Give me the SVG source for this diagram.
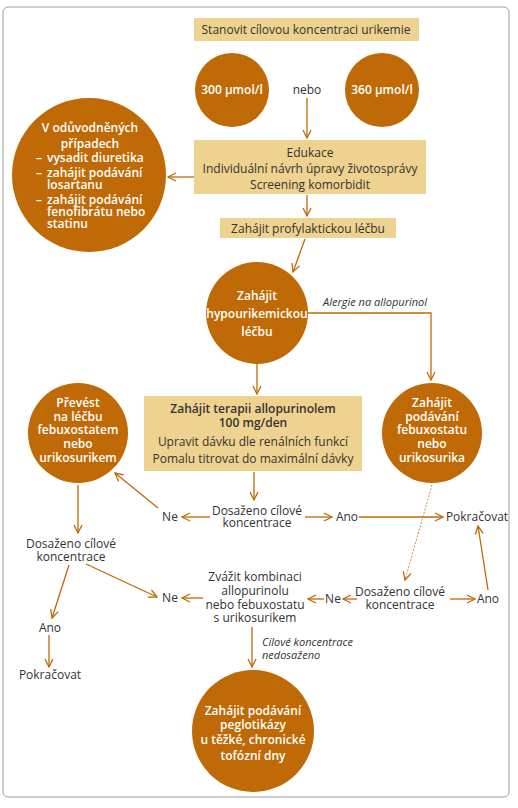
<svg xmlns="http://www.w3.org/2000/svg" width="518" height="808" viewBox="0 0 518 808">
<defs>
<style>
.t{font-family:"Open Sans","Noto Sans","Liberation Sans",sans-serif;font-size:12px;fill:#333;text-anchor:middle}
.w{font-family:"Open Sans","Noto Sans","Liberation Sans",sans-serif;font-size:12px;fill:#fff;text-anchor:middle;font-weight:600}
.wl{text-anchor:start}
.i{font-style:italic;font-size:11px}
.b{font-weight:600}
.c{fill:#BF6A06}
.bx{fill:#EED28F}
.ln{stroke:#BF6A06;stroke-width:1.3;fill:none}
.ds{stroke:#D4913A;stroke-width:1;fill:none;stroke-dasharray:2,1.5}
</style>
<marker id="a" viewBox="0 0 10 10" refX="9" refY="5" markerWidth="10" markerHeight="10" markerUnits="userSpaceOnUse" orient="auto">
<path d="M1,1 L9,5 L1,9" fill="none" stroke="#BF6A06" stroke-width="1.3"/>
</marker>
</defs>
<rect x="3" y="7" width="506" height="790" rx="5" fill="#fff" stroke="#a0a0a0" stroke-width="1"/>

<g id="connectors">
<line class="ln" x1="307" y1="98" x2="307" y2="138" marker-end="url(#a)"/>
<line class="ln" x1="194" y1="177" x2="168" y2="177" marker-end="url(#a)"/>
<line class="ln" x1="307" y1="195" x2="307" y2="216" marker-end="url(#a)"/>
<line class="ln" x1="305" y1="239" x2="293" y2="272" marker-end="url(#a)"/>
<polyline class="ln" points="308,313 431,313 431,380" marker-end="url(#a)"/>
<line class="ln" x1="257" y1="364" x2="257" y2="394" marker-end="url(#a)"/>
<line class="ln" x1="254" y1="472" x2="254" y2="500" marker-end="url(#a)"/>
<line class="ln" x1="210" y1="517" x2="182" y2="517" marker-end="url(#a)"/>
<line class="ln" x1="158" y1="508" x2="115" y2="473" marker-end="url(#a)"/>
<line class="ln" x1="305" y1="517" x2="332" y2="517" marker-end="url(#a)"/>
<line class="ln" x1="359" y1="517" x2="443" y2="517" marker-end="url(#a)"/>
<line class="ln" x1="78" y1="485" x2="78" y2="533" marker-end="url(#a)"/>
<line class="ln" x1="69" y1="565" x2="52" y2="618" marker-end="url(#a)"/>
<line class="ln" x1="86" y1="564" x2="157" y2="597" marker-end="url(#a)"/>
<line class="ln" x1="49" y1="635" x2="49" y2="667" marker-end="url(#a)"/>
<line class="ln" x1="203" y1="598" x2="182" y2="598" marker-end="url(#a)"/>
<line class="ln" x1="357" y1="599" x2="343" y2="599" marker-end="url(#a)"/>
<line class="ln" x1="324" y1="599" x2="308" y2="599" marker-end="url(#a)"/>
<line class="ln" x1="450" y1="599" x2="475" y2="599" marker-end="url(#a)"/>
<line class="ln" x1="488" y1="590" x2="478" y2="526" marker-end="url(#a)"/>
<line class="ds" x1="432" y1="485" x2="405" y2="580" marker-end="url(#a)"/>
<line class="ln" x1="252" y1="627" x2="252" y2="667" marker-end="url(#a)"/>
<text class="t i" x="323" y="306" style="text-anchor:start">Alergie na allopurinol</text>
<text class="t i" x="262" y="646" style="text-anchor:start">Cílové koncentrace</text>
<text class="t i" x="262" y="659" style="text-anchor:start">nedosaženo</text>
</g>

<g id="stanovit">
<rect class="bx" x="194" y="18" width="225" height="23"/>
<text class="t" x="306" y="34">Stanovit cílovou koncentraci urikemie</text>
</g>
<g id="c300">
<circle class="c" cx="232" cy="90" r="37"/>
<text class="w" x="232" y="94">300 µmol/l</text>
</g>
<g id="nebo"><text class="t" x="307" y="94">nebo</text></g>
<g id="c360">
<circle class="c" cx="382" cy="90" r="37"/>
<text class="w" x="382" y="94">360 µmol/l</text>
</g>
<g id="edukace">
<rect class="bx" x="194" y="140" width="232" height="54"/>
<text class="t" x="310" y="157">Edukace</text>
<text class="t" x="310" y="173">Individuální návrh úpravy životosprávy</text>
<text class="t" x="310" y="189">Screening komorbidit</text>
</g>
<g id="odduvodnenych">
<circle class="c" cx="89" cy="175" r="77"/>
<text class="w" x="90" y="132">V odůvodněných</text>
<text class="w" x="90" y="148">případech</text>
<text class="w wl" x="36" y="162">–</text><text class="w wl" x="47" y="162">vysadit diuretika</text>
<text class="w wl" x="36" y="177">–</text><text class="w wl" x="47" y="177">zahájit podávání</text>
<text class="w wl" x="47" y="189">losartanu</text>
<text class="w wl" x="36" y="204">–</text><text class="w wl" x="47" y="204">zahájit podávání</text>
<text class="w wl" x="47" y="216">fenofibrátu nebo</text>
<text class="w wl" x="47" y="228">statinu</text>
</g>
<g id="profylaxe">
<rect class="bx" x="220" y="218" width="176" height="20"/>
<text class="t" x="308" y="233">Zahájit profylaktickou léčbu</text>
</g>
<g id="hypourikemicka">
<circle class="c" cx="257" cy="313" r="51"/>
<text class="w" x="257" y="300">Zahájit</text>
<text class="w" x="257" y="318">hypourikemickou</text>
<text class="w" x="257" y="336">léčbu</text>
</g>
<g id="allopurinol">
<rect class="bx" x="144" y="396" width="218" height="75"/>
<text class="t b" x="253" y="413">Zahájit terapii allopurinolem</text>
<text class="t b" x="253" y="427">100 mg/den</text>
<text class="t" x="253" y="446">Upravit dávku dle renálních funkcí</text>
<text class="t" x="253" y="463">Pomalu titrovat do maximální dávky</text>
</g>
<g id="febuxostatu">
<circle class="c" cx="432" cy="433" r="50"/>
<text class="w" x="432" y="407">Zahájit</text>
<text class="w" x="432" y="421">podávání</text>
<text class="w" x="432" y="434">febuxostatu</text>
<text class="w" x="432" y="448">nebo</text>
<text class="w" x="432" y="462">urikosurika</text>
</g>
<g id="prevest">
<circle class="c" cx="78" cy="433" r="50"/>
<text class="w" x="78" y="407">Převést</text>
<text class="w" x="78" y="421">na léčbu</text>
<text class="w" x="78" y="434">febuxostatem</text>
<text class="w" x="78" y="448">nebo</text>
<text class="w" x="78" y="462">urikosurikem</text>
</g>
<g id="dosazeno1">
<text class="t" x="257" y="515">Dosaženo cílové</text>
<text class="t" x="257" y="527">koncentrace</text>
</g>
<g id="ne1"><text class="t" x="170" y="521">Ne</text></g>
<g id="ano1"><text class="t" x="347" y="521">Ano</text></g>
<g id="pokracovat1"><text class="t" x="477" y="521">Pokračovat</text></g>
<g id="dosazeno2">
<text class="t" x="71" y="548">Dosaženo cílové</text>
<text class="t" x="71" y="561">koncentrace</text>
</g>
<g id="ano2"><text class="t" x="50" y="632">Ano</text></g>
<g id="pokracovat2"><text class="t" x="50" y="679">Pokračovat</text></g>
<g id="ne2"><text class="t" x="170" y="602">Ne</text></g>
<g id="zvazit">
<text class="t" x="255" y="581">Zvážit kombinaci</text>
<text class="t" x="255" y="595">allopurinolu</text>
<text class="t" x="255" y="609">nebo febuxostatu</text>
<text class="t" x="255" y="622">s urikosurikem</text>
</g>
<g id="ne3"><text class="t" x="333" y="603">Ne</text></g>
<g id="dosazeno3">
<text class="t" x="400" y="596">Dosaženo cílové</text>
<text class="t" x="400" y="609">koncentrace</text>
</g>
<g id="ano3"><text class="t" x="488" y="603">Ano</text></g>
<g id="peglotikaza">
<circle class="c" cx="253" cy="731" r="61"/>
<text class="w" x="253" y="715">Zahájit podávání</text>
<text class="w" x="253" y="729">peglotikázy</text>
<text class="w" x="253" y="744">u těžké, chronické</text>
<text class="w" x="253" y="760">tofózní dny</text>
</g>
</svg>
